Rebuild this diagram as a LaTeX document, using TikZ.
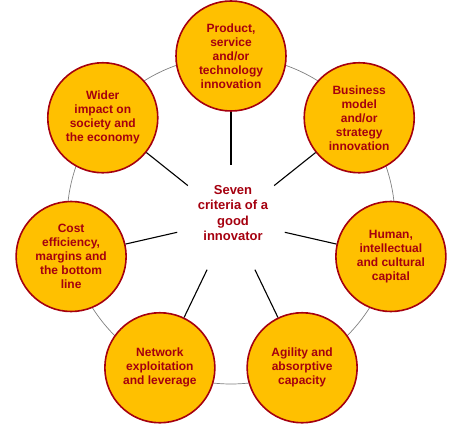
\documentclass[tikz,border=0pt]{standalone}
\usepackage{fontspec}
\setmainfont{Liberation Sans}
\definecolor{critfill}{RGB}{255,192,0}
\definecolor{critred}{RGB}{165,0,15}
\begin{document}
\begin{tikzpicture}[x=1pt, y=1pt,
    crit/.style={circle, draw=critred, line width=1.6pt, fill=critfill, minimum size=110pt,
        inner sep=0pt, align=center, text=critred, font=\fontsize{12}{14}\selectfont\bfseries},
    spoke/.style={black, line width=1.1pt}]
    \useasboundingbox (0,0) rectangle (460,423);
    % Outer ring through the circle centres
    \coordinate (ctr) at (231,203);
    \draw[gray, line width=0.7pt] (ctr) circle (164pt);
    % Hub and title
    \node[circle, minimum size=110pt, inner sep=0pt] (hub) at (ctr) {};
    \node[text=critred, align=center, font=\fontsize{13}{15.5}\selectfont\bfseries] (title) at (233,210)
        {Seven\\criteria of a\\good\\innovator};
    % Seven criteria
    \node[crit] (product) at ([shift={(90:164)}]ctr) {Product,\\service\\and/or\\technology\\innovation};
    \node[crit] (business) at ([shift={(38.57:164)}]ctr) {Business\\model\\and/or\\strategy\\innovation};
    \node[crit] (human) at ([shift={(-12.86:164)}]ctr) {Human,\\intellectual\\and cultural\\capital};
    \node[crit] (agility) at ([shift={(-64.29:164)}]ctr) {Agility and\\absorptive\\capacity};
    \node[crit] (network) at ([shift={(-115.71:164)}]ctr) {Network\\exploitation\\and leverage};
    \node[crit] (cost) at ([shift={(-167.14:164)}]ctr) {Cost\\efficiency,\\margins and\\the bottom\\line};
    \node[crit] (wider) at ([shift={(141.43:164)}]ctr) {Wider\\impact on\\society and\\the economy};
    % Spokes
    \draw[spoke] (hub) -- (product);
    \draw[spoke] (hub) -- (business);
    \draw[spoke] (hub) -- (human);
    \draw[spoke] (hub) -- (agility);
    \draw[spoke] (hub) -- (network);
    \draw[spoke] (hub) -- (cost);
    \draw[spoke] (hub) -- (wider);
\end{tikzpicture}
\end{document}
